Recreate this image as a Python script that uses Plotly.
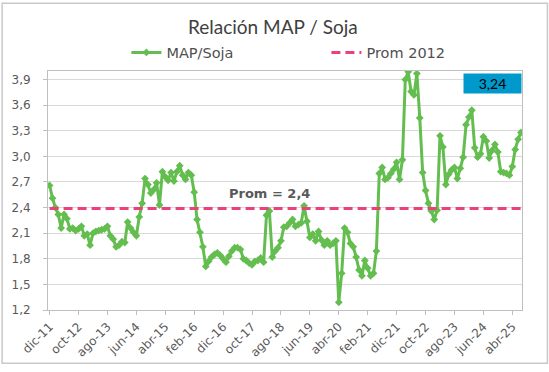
import plotly.graph_objects as go

# ---------------- data ----------------
start_year, start_month = 2011, 12
mes_abbr = ["ene", "feb", "mar", "abr", "may", "jun", "jul", "ago", "sep", "oct", "nov", "dic"]

map_soja = [
    2.66, 2.51, 2.40, 2.32, 2.16, 2.32, 2.27, 2.15, 2.16, 2.13,
    2.15, 2.18, 2.07, 2.09, 1.96, 2.10, 2.12, 2.13, 2.14, 2.15,
    2.18, 2.07, 2.03, 1.94, 1.96, 2.00, 1.99, 2.23, 2.16, 2.11,
    2.07, 2.29, 2.45, 2.74, 2.67, 2.57, 2.61, 2.69, 2.43, 2.82,
    2.76, 2.72, 2.81, 2.71, 2.82, 2.89, 2.78, 2.73, 2.81, 2.78,
    2.58, 2.26, 2.11, 1.94, 1.71, 1.77, 1.82, 1.85, 1.87, 1.84,
    1.80, 1.76, 1.83, 1.89, 1.93, 1.93, 1.91, 1.80, 1.78, 1.75,
    1.73, 1.77, 1.78, 1.81, 1.76, 2.31, 2.36, 1.82, 1.89, 1.93,
    2.01, 2.17, 2.18, 2.22, 2.26, 2.18, 2.20, 2.22, 2.42, 2.24,
    2.05, 2.09, 2.01, 2.12, 2.02, 1.96, 2.01, 1.96, 1.98, 2.01,
    1.29, 1.63, 2.16, 2.11, 1.98, 1.94, 1.82, 1.67, 1.60, 1.78,
    1.69, 1.60, 1.63, 1.89, 2.80, 2.87, 2.73, 2.75, 2.80, 2.85,
    2.93, 2.73, 2.96, 3.90, 3.99, 3.76, 3.72, 3.97, 3.45, 2.81,
    2.60, 2.45, 2.36, 2.26, 2.37, 3.24, 3.11, 2.67, 2.79, 2.84,
    2.87, 2.74, 2.86, 2.99, 3.37, 3.46, 3.54, 3.10, 2.99, 3.03,
    3.23, 3.18, 2.98, 3.07, 3.14, 3.05, 2.82, 2.81, 2.80, 2.78,
    2.88, 3.08, 3.20, 3.28,
]
prom_2012 = 2.39
ultimo_texto = "3,24"

months = []
for k in range(len(map_soja)):
    m = (start_month - 1 + k) % 12
    y = start_year + (start_month - 1 + k) // 12
    months.append(f"{mes_abbr[m]}-{y % 100:02d}")

tick_labels = months[::10]

y_ticks = [1.2, 1.5, 1.8, 2.1, 2.4, 2.7, 3.0, 3.3, 3.6, 3.9]

# ---------------- layout constants ----------------
W, H = 549, 372
L, R, T, B = 47, 27, 71, 56
PW, PH = W - L - R, H - T - B


def px_x(px):
    return (px - L) / PW


def px_y(py):
    return (H - B - py) / PH


GREEN = "#63BE4F"
PINK = "#EC407A"
TXT = "#595959"

fig = go.Figure()

fig.add_trace(go.Scatter(
    x=months, y=map_soja, name="MAP/Soja", mode="lines+markers",
    line=dict(color=GREEN, width=3),
    marker=dict(symbol="diamond", size=6, color=GREEN),
))
fig.add_trace(go.Scatter(
    x=months, y=[prom_2012] * len(months), name="Prom 2012", mode="lines",
    line=dict(color=PINK, width=3, dash="9px,5px"),
))

fig.update_layout(
    width=W, height=H,
    margin=dict(l=L, r=R, t=T, b=B),
    paper_bgcolor="white", plot_bgcolor="white",
    separators=",.",
    showlegend=True,
    title=dict(
        text="Relación MAP / Soja", x=0.497, xanchor="center",
        y=1 - 27 / H, yanchor="middle", yref="container",
        font=dict(family="Lato", size=19, color="#404040"),
    ),
    legend=dict(
        orientation="h", x=px_x(326), xanchor="center",
        y=px_y(52), yanchor="middle",
        font=dict(family="DejaVu Sans", size=14.5, color="#505050"),
        bgcolor="rgba(0,0,0,0)", entrywidth=155, traceorder="normal",
    ),
    xaxis=dict(
        type="category", range=[-0.55, 163.35],
        tickmode="array", tickvals=tick_labels, ticktext=tick_labels,
        tickangle=-45, ticks="outside", ticklen=4, tickcolor="#BFBFBF",
        showline=True, linecolor="#BFBFBF", linewidth=1, mirror=True,
        showgrid=False, zeroline=False,
        tickfont=dict(family="DejaVu Sans", size=12, color=TXT),
    ),
    yaxis=dict(
        range=[1.2, 4.0], tickmode="array", tickvals=y_ticks,
        tickformat=".1f", ticks="outside", ticklen=4, tickcolor="#BFBFBF",
        showline=True, linecolor="#BFBFBF", linewidth=1, mirror=True,
        showgrid=True, gridcolor="#D9D9D9", gridwidth=1, zeroline=False,
        tickfont=dict(family="DejaVu Sans", size=12, color=TXT),
        ticklabelstandoff=10,
    ),
    annotations=[
        dict(text="<b>Prom = 2,4</b>", xref="paper", yref="paper",
             x=px_x(268.5), y=px_y(197), showarrow=False,
             xanchor="center", yanchor="middle",
             font=dict(family="DejaVu Sans", size=13, color=TXT)),
        dict(text=ultimo_texto, xref="paper", yref="paper",
             x=px_x(492.5), y=px_y(84), showarrow=False,
             xanchor="center", yanchor="middle", width=57, height=19,
             bgcolor="#0099CC", borderpad=0,
             font=dict(family="Lato", size=14, color="#000000")),
    ],
    shapes=[
        dict(type="rect", xref="paper", yref="paper",
             x0=px_x(1), x1=px_x(547.5), y0=px_y(370.5), y1=px_y(1.5),
             line=dict(color="#C8C8C8", width=1.5), fillcolor="rgba(0,0,0,0)",
             layer="below"),
    ],
)

fig.write_html("out.html", config={"displayModeBar": False},
               post_script="document.body.style.margin='0px';")
